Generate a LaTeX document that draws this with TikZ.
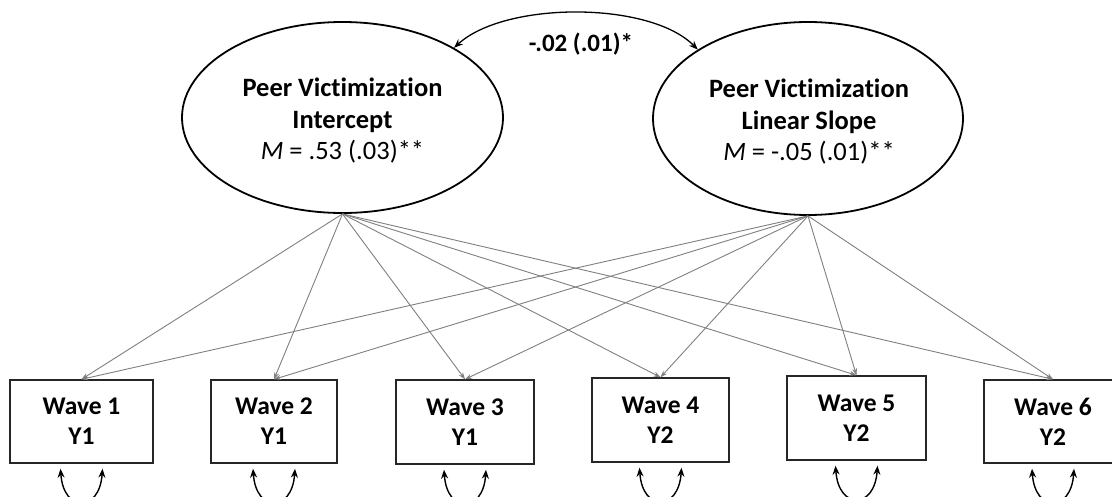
\documentclass[tikz,border=0pt]{standalone}
\usepackage{fontspec}
\setmainfont{Carlito}[RawFeature={-liga;-dlig}]
\usetikzlibrary{arrows.meta,shapes.geometric}
\tikzset{
  latent/.style={draw=black, line width=1.8pt, ellipse, fill=white, inner sep=0pt},
  lvtext/.style={align=center, font=\fontsize{26.5}{31.5}\selectfont, inner sep=0pt},
  obsbox/.style={draw=black!85, line width=1.4pt, rectangle, fill=white, align=center,
    font=\fontsize{25.5}{30}\selectfont\bfseries, inner sep=0pt},
  load/.style={draw=black!50, line width=0.9pt, -{Stealth[length=7pt,width=5pt]}},
  covar/.style={draw=black, line width=1.3pt, {Stealth[length=9pt,width=7pt]}-{Stealth[length=9pt,width=7pt]}},
  resid/.style={draw=black, line width=1.4pt, {Stealth[length=9pt,width=7pt]}-{Stealth[length=9pt,width=7pt]}},
}
\begin{document}
\begin{tikzpicture}[x=1pt,y=-1pt]
\clip (0,0) rectangle (1112,496);
\fill[white] (0,0) rectangle (1112,496);
% latent factors
\node[latent, minimum width=321pt, minimum height=191pt] (lv) at (342.5,117.5) {};
\node[latent, minimum width=310pt, minimum height=193pt] (rv) at (808,118.5) {};
\node[lvtext] (lvt) at (342.5,121) {\textbf{Peer Victimization}\\\textbf{Intercept}\\\textit{M} = .53 (.03)**};
\node[lvtext] (rvt) at (809,122) {\textbf{Peer Victimization}\\\textbf{Linear Slope}\\\textit{M} = -.05 (.01)**};
% observed
\node[obsbox, minimum width=143pt, minimum height=83pt] (b1) at (81.5,421.5) {Wave 1\\Y1};
\node[obsbox, minimum width=126pt, minimum height=83pt] (b2) at (274,421.5) {Wave 2\\Y1};
\node[obsbox, minimum width=138pt, minimum height=84pt] (b3) at (465,422) {Wave 3\\Y1};
\node[obsbox, minimum width=137pt, minimum height=84pt] (b4) at (660.5,420) {Wave 4\\Y2};
\node[obsbox, minimum width=139pt, minimum height=84pt] (b5) at (856.5,418) {Wave 5\\Y2};
\node[obsbox, minimum width=138pt, minimum height=83pt] (b6) at (1053,421.5) {Wave 6\\Y2};
% loadings
\foreach \b in {b1,b2,b3,b4,b5,b6}{
  \draw[load] (lv.south) -- (\b.north);
  \draw[load] (rv.south) -- (\b.north);
}
% covariance
\draw[covar] (lv.32) .. controls (505,1) and (650,1) .. (rv.148);
\node[font=\fontsize{25}{28}\selectfont\bfseries, inner sep=0pt] (cov) at (581,44) {-.02 (.01)*};
% residual variances
\foreach \b in {b1,b2,b3,b4,b5,b6}{
  \coordinate (\b l) at ([xshift=-21pt,yshift=-5pt]\b.south);
  \coordinate (\b r) at ([xshift=21pt,yshift=-5pt]\b.south);
  \draw[resid] (\b l) .. controls ([xshift=3pt,yshift=-44pt]\b l) and ([xshift=-3pt,yshift=-44pt]\b r) .. (\b r);
}
\end{tikzpicture}
\end{document}
